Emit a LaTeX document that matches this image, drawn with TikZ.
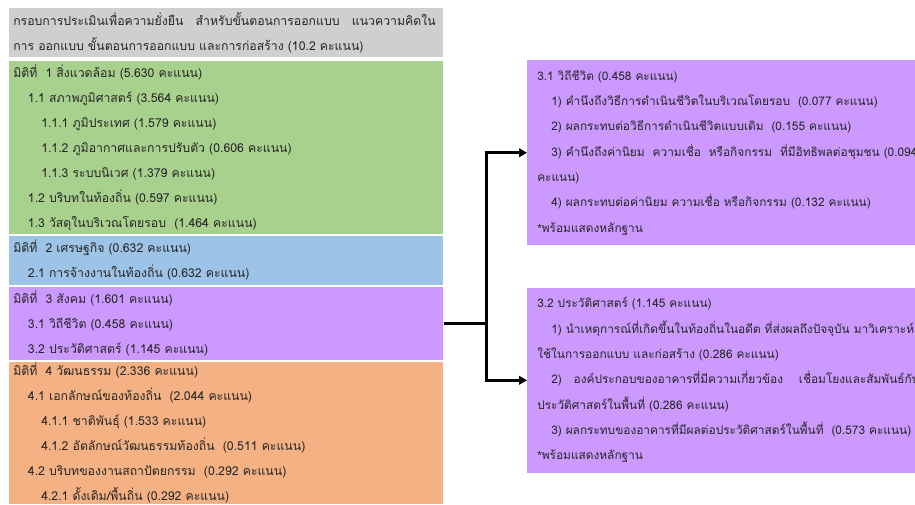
\documentclass[tikz,border=0pt]{standalone}
\usepackage{fontspec}
\newfontfamily\thaifont[Script=Thai]{Loma}
\newfontfamily\starfont{Liberation Sans}
\usetikzlibrary{arrows.meta, positioning}

\definecolor{headgrey}{HTML}{D0CECE}
\definecolor{envgreen}{HTML}{A9D18E}
\definecolor{ecoblue}{HTML}{9DC3E6}
\definecolor{socpurple}{HTML}{CC99FF}
\definecolor{culorange}{HTML}{F4B183}
\definecolor{inkgrey}{HTML}{262626}

% indents for sub-items
\newcommand{\ia}{\hspace*{11pt}}
\newcommand{\ib}{\hspace*{21pt}}
\newcommand{\ic}{\hspace*{10.5pt}}
\newcommand{\evid}{{\starfont *}พร้อมแสดงหลักฐาน}

\begin{document}
\begin{tikzpicture}[
    box/.style={rectangle, inner ysep=0pt, align=left, text=inkgrey,
        font=\thaifont\fontsize{9.2pt}{18.75pt}\selectfont},
    leftbox/.style={box, inner xsep=3pt, text width=319.5pt},
    rightbox/.style={box, inner xsep=7.5pt, text width=340pt, minimum height=138.75pt,
        font=\thaifont\fontsize{8.9pt}{19pt}\selectfont},
    arrow/.style={-{Triangle[length=6pt, width=6.5pt]}, line width=2.2pt}
]
\useasboundingbox (0,0) rectangle (686.25pt,-378.75pt);
\clip (0,0) rectangle (686.25pt,-378.75pt);

\node[leftbox, fill=headgrey, minimum height=36.75pt, anchor=north west] (frame) at (6.75pt,-6pt)
    {กรอบการประเมินเพื่อความยั่งยืน~~~สำหรับขั้นตอนการออกแบบ~~~แนวความคิดใน\\
     การ ออกแบบ ขั้นตอนการออกแบบ และการก่อสร้าง (10.2 คะแนน)};

\node[leftbox, fill=envgreen, minimum height=129.75pt, below=2.25pt of frame] (env)
    {มิติที่~ 1 สิ่งแวดล้อม (5.630 คะแนน)\\
     \ia 1.1 สภาพภูมิศาสตร์ (3.564 คะแนน)\\
     \ib 1.1.1 ภูมิประเทศ (1.579 คะแนน)\\
     \ib 1.1.2 ภูมิอากาศและการปรับตัว (0.606 คะแนน)\\
     \ib 1.1.3 ระบบนิเวศ (1.379 คะแนน)\\
     \ia 1.2 บริบทในท้องถิ่น (0.597 คะแนน)\\
     \ia 1.3 วัสดุในบริเวณโดยรอบ~ (1.464 คะแนน)};

\node[leftbox, fill=ecoblue, minimum height=36.75pt, below=1.1pt of env] (eco)
    {มิติที่~ 2 เศรษฐกิจ (0.632 คะแนน)\\
     \ia 2.1 การจ้างงานในท้องถิ่น (0.632 คะแนน)};

\node[leftbox, fill=socpurple, minimum height=54.75pt, below=1.1pt of eco] (social)
    {มิติที่~ 3 สังคม (1.601 คะแนน)\\
     \ia 3.1 วิถีชีวิต (0.458 คะแนน)\\
     \ia 3.2 ประวัติศาสตร์ (1.145 คะแนน)};

\node[leftbox, fill=culorange, minimum height=107pt, below=1.1pt of social] (culture)
    {มิติที่~ 4 วัฒนธรรม (2.336 คะแนน)\\
     \ia 4.1 เอกลักษณ์ของท้องถิ่น~ (2.044 คะแนน)\\
     \ib 4.1.1 ชาติพันธุ์ (1.533 คะแนน)\\
     \ib 4.1.2 อัตลักษณ์วัฒนธรรมท้องถิ่น~ (0.511 คะแนน)\\
     \ia 4.2 บริบทของงานสถาปัตยกรรม~ (0.292 คะแนน)\\
     \ib 4.2.1 ดั้งเดิม/พื้นถิ่น (0.292 คะแนน)};
% the orange cell runs on past the page edge
\fill[culorange] (culture.south west) rectangle ([yshift=-10pt]culture.south east);

\node[rightbox, fill=socpurple, anchor=north west] (life) at (395.25pt,-45pt)
    {3.1 วิถีชีวิต (0.458 คะแนน)\\
     \ic 1) คำนึงถึงวิธีการดำเนินชีวิตในบริเวณโดยรอบ~ (0.077 คะแนน)\\
     \ic 2) ผลกระทบต่อวิธีการดำเนินชีวิตแบบเดิม~ (0.155 คะแนน)\\
     \ic 3) คำนึงถึงค่านิยม~ ความเชื่อ~ หรือกิจกรรม~ ที่มีอิทธิพลต่อชุมชน (0.094\\
     คะแนน)\\
     \ic 4) ผลกระทบต่อค่านิยม ความเชื่อ หรือกิจกรรม (0.132 คะแนน)\\
     \evid};

\node[rightbox, fill=socpurple, below=31.5pt of life] (history)
    {3.2 ประวัติศาสตร์ (1.145 คะแนน)\\
     \ic 1) นำเหตุการณ์ที่เกิดขึ้นในท้องถิ่นในอดีต ที่ส่งผลถึงปัจจุบัน มาวิเคราะห์\\
     ใช้ในการออกแบบ และก่อสร้าง (0.286 คะแนน)\\
     \ic 2)~~ องค์ประกอบของอาคารที่มีความเกี่ยวข้อง~~~ เชื่อมโยงและสัมพันธ์กับ\\
     ประวัติศาสตร์ในพื้นที่ (0.286 คะแนน)\\
     \ic 3) ผลกระทบของอาคารที่มีผลต่อประวัติศาสตร์ในพื้นที่~ (0.573 คะแนน)\\
     \evid};

\draw[arrow] (social.east) -- ++(32.25pt,0) coordinate (fork) |- (life.west);
\draw[arrow] (fork) |- (history.west);

\end{tikzpicture}
\end{document}
